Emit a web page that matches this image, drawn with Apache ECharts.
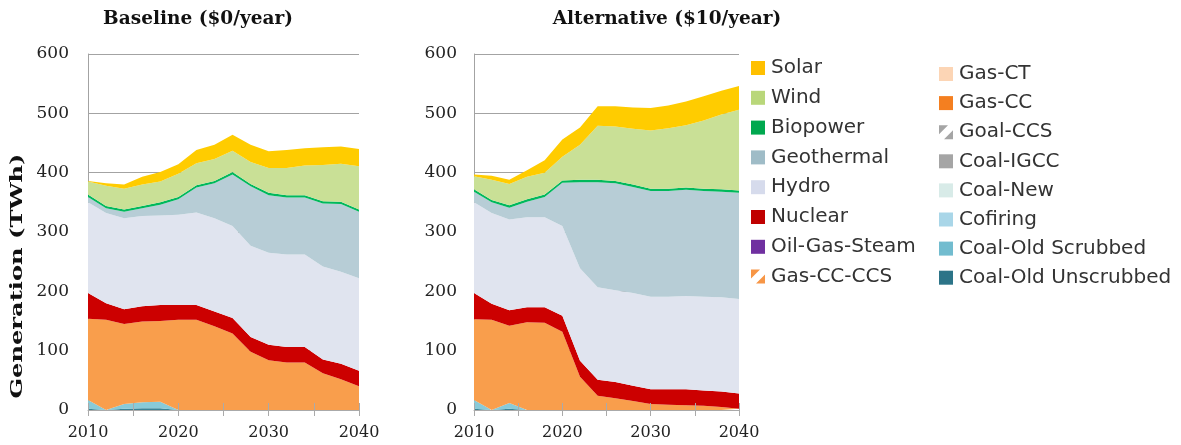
<!DOCTYPE html>
<html>
<head>
<meta charset="utf-8">
<script src="https://cdn.jsdelivr.net/npm/echarts@6/dist/echarts.min.js"></script>
<style>
  html, body { margin: 0; padding: 0; background: #fff; }
  #chart { width: 1181px; height: 445px; }
</style>
</head>
<body>
<div id="chart"></div>
<script>
// years on the x axis (every two years)
const years = ['2010', '2012', '2014', '2016', '2018', '2020', '2022', '2024', '2026', '2028', '2030', '2032', '2034', '2036', '2038', '2040'];
const zeros = [0, 0, 0, 0, 0, 0, 0, 0, 0, 0, 0, 0, 0, 0, 0, 0];

// Baseline ($0/year), TWh per technology
const baseCoalUnscrubbed = [2, 0, 2, 3, 3, 0, 0, 0, 0, 0, 0, 0, 0, 0, 0, 0];
const baseCoalScrubbed = [15, 0, 8, 10, 11, 0, 0, 0, 0, 0, 0, 0, 0, 0, 0, 0];
const baseGasCC = [137, 152, 135, 136, 136, 152, 152, 141, 129, 98, 84, 80, 80, 62, 52, 40];
const baseNuclear = [43, 28, 25, 26, 27, 25, 25, 25, 26, 25, 26, 26, 26, 23, 26, 26];
const baseHydro = [153, 152, 153, 152, 151, 152, 156, 157, 155, 154, 155, 156, 156, 157, 155, 156];
const baseGeothermal = [9, 8, 11, 13, 18, 26, 42, 59, 87, 100, 97, 96, 96, 106, 114, 112];
const baseBiopower = [4, 4, 4, 4, 4, 4, 4, 4, 4, 4, 4, 4, 4, 4, 4, 4];
const baseWind = [22, 34, 35, 36, 35, 39, 37, 37, 36, 37, 42, 46, 50, 61, 64, 73];
const baseSolar = [1, 4, 7, 13, 16, 16, 22, 24, 27, 29, 28, 30, 29, 30, 29, 29];

// Alternative ($10/year)
const altCoalUnscrubbed = [2, 0, 2, 0, 0, 0, 0, 0, 0, 0, 0, 0, 0, 0, 0, 0];
const altCoalScrubbed = [15, 0, 10, 0, 0, 0, 0, 0, 0, 0, 0, 0, 0, 0, 0, 0];
const altGasCC = [136, 152, 130, 148, 147, 132, 56, 24, 20, 15, 10, 9, 8, 7, 5, 2];
const altNuclear = [44, 27, 26, 25, 26, 27, 27, 27, 27, 26, 25, 26, 27, 26, 26, 26];
const altHydro = [153, 153, 153, 152, 152, 151, 156, 156, 155, 156, 156, 156, 157, 158, 159, 159];
const altGeothermal = [18, 18, 20, 26, 34, 73, 145, 177, 180, 179, 178, 178, 179, 178, 178, 179];
const altBiopower = [4, 4, 4, 4, 4, 4, 4, 4, 4, 4, 4, 4, 4, 4, 4, 4];
const altWind = [22, 34, 36, 38, 37, 40, 59, 91, 92, 94, 98, 102, 105, 115, 126, 136];
const altSolar = [3, 7, 7, 11, 21, 29, 29, 33, 34, 36, 38, 38, 40, 41, 40, 40];

const legendLeft = ['Solar', 'Wind', 'Biopower', 'Geothermal', 'Hydro', 'Nuclear', 'Oil-Gas-Steam', 'Gas-CC-CCS'];
const legendRight = ['Gas-CT', 'Gas-CC', 'Goal-CCS', 'Coal-IGCC', 'Coal-New', 'Cofiring', 'Coal-Old Scrubbed', 'Coal-Old Unscrubbed'];

// area fill colours and legend swatch colours
const areaColor = {
  'Solar': '#ffcc00', 'Wind': '#c9e096', 'Biopower': '#00b85c', 'Geothermal': '#b7cdd6',
  'Hydro': '#e0e4ef', 'Nuclear': '#cc0000', 'Oil-Gas-Steam': '#7030a0', 'Gas-CC-CCS': '#f79646',
  'Gas-CT': '#fcd5b5', 'Gas-CC': '#f99e4c', 'Goal-CCS': '#a5a5a5', 'Coal-IGCC': '#a5a5a5',
  'Coal-New': '#d8ebe8', 'Cofiring': '#a9d6e8', 'Coal-Old Scrubbed': '#88cad8', 'Coal-Old Unscrubbed': '#3a8497'
};
const swatchColor = {
  'Solar': '#ffc000', 'Wind': '#b9d77a', 'Biopower': '#00a84f', 'Geothermal': '#9fbcc7',
  'Hydro': '#d6dbec', 'Nuclear': '#c00000', 'Oil-Gas-Steam': '#7030a0', 'Gas-CC-CCS': '#f79646',
  'Gas-CT': '#fcd5b5', 'Gas-CC': '#f47f20', 'Goal-CCS': '#a5a5a5', 'Coal-IGCC': '#a5a5a5',
  'Coal-New': '#d8ebe8', 'Cofiring': '#a9d6e8', 'Coal-Old Scrubbed': '#72bccf', 'Coal-Old Unscrubbed': '#2c7488'
};
const hatchIcon = 'path://M0,0L9,0L0,9Z M14,5L14,14L5,14Z';

let chart = echarts.init(document.getElementById('chart'));

// idx 0 = left grid, 1 = right grid; data lives on the hidden category axis
function stackOf(idx, layers) {
  return layers.map(function (l) {
    return {
      name: l[0],
      type: 'line',
      xAxisIndex: idx * 3,
      yAxisIndex: idx,
      stack: 'gen' + idx,
      symbol: 'none',
      silent: true,
      color: areaColor[l[0]],
      lineStyle: { width: 0 },
      areaStyle: { color: areaColor[l[0]], opacity: 1 },
      data: l[1]
    };
  });
}

// bottom to top stacking order
let baseSeries = stackOf(0, [
  ['Coal-Old Unscrubbed', baseCoalUnscrubbed], ['Coal-Old Scrubbed', baseCoalScrubbed],
  ['Cofiring', zeros], ['Coal-New', zeros], ['Coal-IGCC', zeros], ['Goal-CCS', zeros],
  ['Gas-CC', baseGasCC], ['Gas-CT', zeros], ['Gas-CC-CCS', zeros], ['Oil-Gas-Steam', zeros],
  ['Nuclear', baseNuclear], ['Hydro', baseHydro], ['Geothermal', baseGeothermal],
  ['Biopower', baseBiopower], ['Wind', baseWind], ['Solar', baseSolar]
]);
let altSeries = stackOf(1, [
  ['Coal-Old Unscrubbed', altCoalUnscrubbed], ['Coal-Old Scrubbed', altCoalScrubbed],
  ['Cofiring', zeros], ['Coal-New', zeros], ['Coal-IGCC', zeros], ['Goal-CCS', zeros],
  ['Gas-CC', altGasCC], ['Gas-CT', zeros], ['Gas-CC-CCS', zeros], ['Oil-Gas-Steam', zeros],
  ['Nuclear', altNuclear], ['Hydro', altHydro], ['Geothermal', altGeothermal],
  ['Biopower', altBiopower], ['Wind', altWind], ['Solar', altSolar]
]);

function legendData(names) {
  return names.map(function (n) {
    let d = { name: n, icon: 'rect', itemStyle: { color: swatchColor[n] } };
    if (n === 'Gas-CC-CCS' || n === 'Goal-CCS') d.icon = hatchIcon;
    return d;
  });
}

const serif = 'DejaVu Serif';
const gridGray = '#a3a3a3';

function xCat(g) {
  return {
    type: 'category', gridIndex: g, position: 'top', data: years, boundaryGap: false, show: false
  };
}
function xMain(g) {
  return {
    type: 'value', gridIndex: g, position: 'bottom', min: 2010, max: 2040, interval: 5, z: 10,
    axisLine: { onZero: false, lineStyle: { color: '#aaaaaa', width: 1 } },
    axisTick: { length: 6, lineStyle: { color: '#aaaaaa' } },
    axisLabel: {
      margin: 15, color: '#222', fontFamily: serif, fontSize: 16,
      formatter: function (v) { return v % 10 === 0 ? String(v) : ''; }
    },
    splitLine: { show: false }
  };
}
function xInner(g) {
  return {
    type: 'value', gridIndex: g, position: 'bottom', min: 2010, max: 2040, interval: 5, z: 10,
    axisLine: { show: false, onZero: false },
    axisTick: { inside: true, length: 7, lineStyle: { color: '#aaaaaa' } },
    axisLabel: { show: false },
    splitLine: { show: false }
  };
}
function yAxisOf(g, margin) {
  return {
    type: 'value', gridIndex: g, min: 0, max: 600, interval: 100,
    axisLine: { show: true, lineStyle: { color: gridGray } },
    axisTick: { show: false },
    axisLabel: { margin: margin, color: '#222', fontFamily: serif, fontSize: 17 },
    splitLine: { lineStyle: { color: gridGray, width: 1 } }
  };
}

chart.setOption({
  animation: false,
  backgroundColor: '#fff',
  title: [
    { text: 'Baseline ($0/year)', left: 193, top: 5, textAlign: 'center',
      textStyle: { fontFamily: serif, fontWeight: 'bold', fontSize: 18.5, color: '#111' } },
    { text: 'Alternative ($10/year)', left: 662, top: 5, textAlign: 'center',
      textStyle: { fontFamily: serif, fontWeight: 'bold', fontSize: 18.5, color: '#111' } }
  ],
  legend: [
    { orient: 'vertical', left: 751, top: 58, padding: 0, itemWidth: 14, itemHeight: 14, itemGap: 9.8,
      selectedMode: false, data: legendData(legendLeft),
      textStyle: { fontFamily: 'DejaVu Sans', fontSize: 20, lineHeight: 20, color: '#333', padding: [0, 0, 0, 1] } },
    { orient: 'vertical', left: 939, top: 64, padding: 0, itemWidth: 14, itemHeight: 14, itemGap: 9.1,
      selectedMode: false, data: legendData(legendRight),
      textStyle: { fontFamily: 'DejaVu Sans', fontSize: 20, lineHeight: 20, color: '#333', padding: [0, 0, 0, 1] } }
  ],
  grid: [
    { left: 88, top: 54, width: 271, height: 356 },
    { left: 474, top: 54, width: 265, height: 356 }
  ],
  xAxis: [xCat(0), xMain(0), xInner(0), xCat(1), xMain(1), xInner(1)],
  yAxis: [yAxisOf(0, 19), yAxisOf(1, 17)],
  graphic: [
    { type: 'text', x: 18, y: 276, rotation: Math.PI / 2, scaleX: 1.42,
      style: { text: 'Generation (TWh)', fontFamily: serif, fontWeight: 'bold', fontSize: 17,
        fill: '#111', align: 'center', verticalAlign: 'middle' } }
  ],
  series: baseSeries.concat(altSeries)
});
</script>
</body>
</html>
